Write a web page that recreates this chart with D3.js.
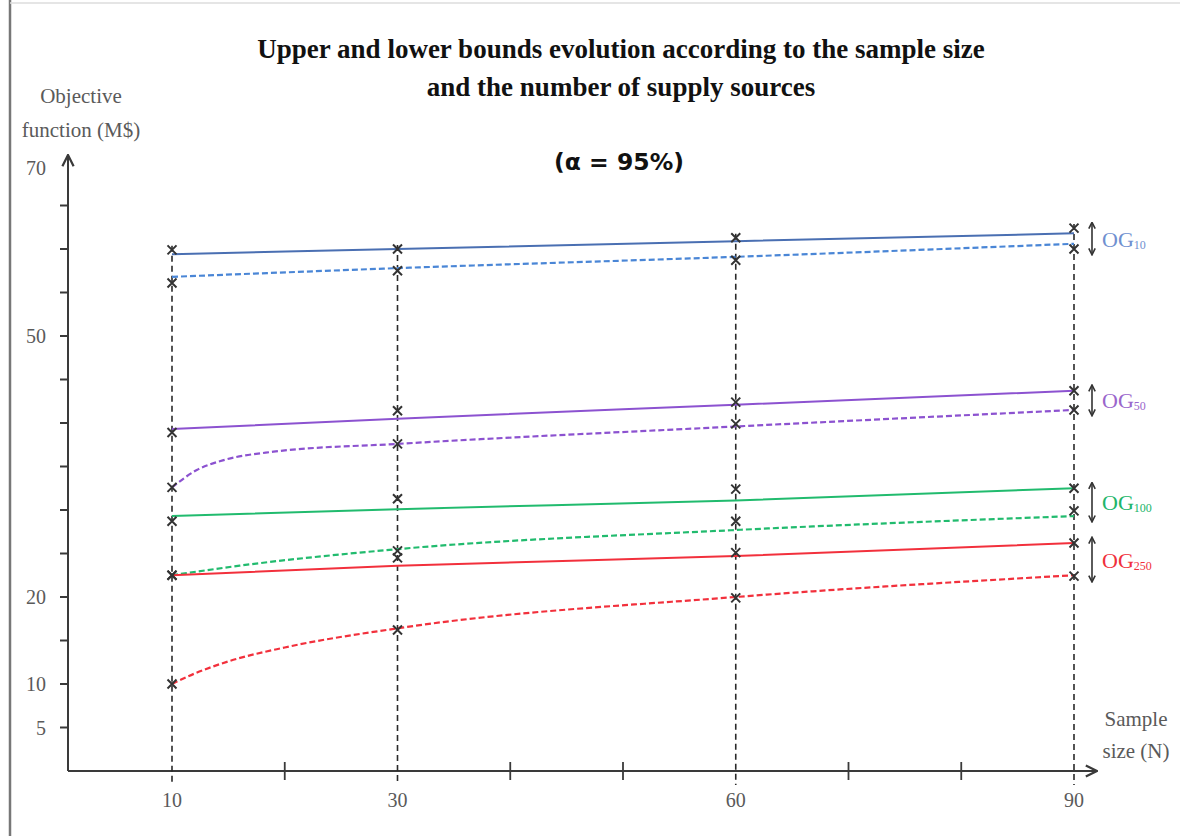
<!DOCTYPE html>
<html>
<head>
<meta charset="utf-8">
<script src="https://cdn.jsdelivr.net/npm/d3@7/dist/d3.min.js"></script>
<style>
  html, body { margin: 0; padding: 0; background: #fff; }
  svg { display: block; }
</style>
</head>
<body>
<svg id="chart" width="1180" height="836"></svg>
<script>
// ---------------- data ----------------
const sampleSizes = [10, 30, 60, 90];
const xMinorTicks = [20, 40, 50, 70, 80];
const yTicks = [5, 10, 15, 20, 25, 30, 35, 40, 45, 50, 55, 60, 65];
const yTickLabels = [5, 10, 20, 50, 70];

const groupNames = ["10", "50", "100", "250"];
const groupColors = ["#4a6fb2", "#8c52d0", "#21bb6e", "#f2303c"];
const groupDashColors = ["#4a86d6", "#8c52d0", "#21bb6e", "#f2303c"];
const groupLabelColors = ["#7090d0", "#9a66cc", "#21b56a", "#f0303c"];

// fitted upper bound (solid) at N = 10, 30, 60, 90
const upperFit = [
  [59.4, 60.0, 60.9, 61.8],
  [39.3, 40.5, 42.1, 43.7],
  [29.3, 30.1, 31.1, 32.5],
  [22.5, 23.6, 24.7, 26.2]
];
// observed upper bound markers at N = 10, 30, 60, 90
const upperObs = [
  [59.9, 60.0, 61.3, 62.4],
  [38.9, 41.4, 42.4, 43.7],
  [28.7, 31.3, 32.4, 32.5],
  [22.5, 24.5, 25.1, 26.2]
];
// fitted lower bound (dashed) curves: sample sizes and values
const lowerFitN = [
  [10, 30, 60, 90],
  [10, 12.2, 14.5, 19, 30, 60, 90],
  [10, 16, 30, 60, 90],
  [10, 12, 15, 20, 30, 60, 90]
];
const lowerFit = [
  [56.8, 57.8, 59.1, 60.6],
  [32.6, 34.6, 35.7, 36.7, 37.6, 39.6, 41.5],
  [22.5, 23.6, 25.5, 27.7, 29.3],
  [10.0, 11.2, 12.6, 14.2, 16.4, 20.0, 22.5]
];
// observed lower bound markers at N = 10, 30, 60, 90
const lowerObs = [
  [56.1, 57.5, 58.7, 60.0],
  [32.6, 37.6, 39.9, 41.5],
  [22.5, 25.3, 28.7, 29.9],
  [10.0, 16.2, 19.9, 22.4]
];

// ---------------- drawing ----------------
const svg = d3.select("#chart");
const x = d3.scaleLinear().domain([10, 90]).range([172, 1074]);
const y = d3.scaleLinear().domain([0, 70]).range([771, 162]);
const axisX0 = 68, axisY0 = 771;
const grey = "#3a3a3a";
const serif = "'Liberation Serif', 'DejaVu Serif', serif";
const labelGrey = "#5a5a5a";

// frame
svg.append("line").attr("x1", 10).attr("x2", 10).attr("y1", 0).attr("y2", 836)
  .attr("stroke", "#777").attr("stroke-width", 2.5);
svg.append("line").attr("x1", 10).attr("x2", 1180).attr("y1", 3).attr("y2", 3)
  .attr("stroke", "#ddd").attr("stroke-width", 1.5);

const defs = svg.append("defs");
defs.append("marker").attr("id", "arrow").attr("viewBox", "0 0 10 10")
  .attr("refX", 9).attr("refY", 5).attr("markerWidth", 7).attr("markerHeight", 7)
  .attr("orient", "auto-start-reverse")
  .append("path").attr("d", "M1,1 L9,5 L1,9").attr("fill", "none")
  .attr("stroke", grey).attr("stroke-width", 1.6);
defs.append("marker").attr("id", "dbl").attr("viewBox", "0 0 10 10")
  .attr("refX", 8).attr("refY", 5).attr("markerWidth", 5).attr("markerHeight", 6)
  .attr("orient", "auto-start-reverse")
  .append("path").attr("d", "M1,1 L9,5 L1,9").attr("fill", "none")
  .attr("stroke", "#333").attr("stroke-width", 2);

// title
const title = svg.append("g").attr("font-family", serif).attr("font-weight", "bold")
  .attr("font-size", 27).attr("fill", "#111").attr("text-anchor", "middle");
title.append("text").attr("x", 621).attr("y", 58)
  .text("Upper and lower bounds evolution according to the sample size");
title.append("text").attr("x", 621).attr("y", 96)
  .text("and the number of supply sources");
svg.append("text").attr("x", 619).attr("y", 170).attr("text-anchor", "middle")
  .attr("font-family", "'DejaVu Sans', sans-serif").attr("font-weight", "bold")
  .attr("font-size", 23.5).attr("fill", "#111").text("(α = 95%)");

// axes
svg.append("line").attr("x1", axisX0).attr("x2", axisX0).attr("y1", axisY0).attr("y2", 155)
  .attr("stroke", grey).attr("stroke-width", 2).attr("marker-end", "url(#arrow)");
svg.append("line").attr("x1", axisX0).attr("x2", 1097).attr("y1", axisY0).attr("y2", axisY0)
  .attr("stroke", grey).attr("stroke-width", 2).attr("marker-end", "url(#arrow)");

// y ticks
svg.append("g").selectAll("line").data(yTicks).join("line")
  .attr("x1", axisX0 - 8).attr("x2", axisX0).attr("y1", d => y(d)).attr("y2", d => y(d))
  .attr("stroke", grey).attr("stroke-width", 2);
svg.append("g").selectAll("text").data(yTickLabels).join("text")
  .attr("x", 46).attr("y", d => y(d) + (d === 70 ? 13 : 7)).attr("text-anchor", "end")
  .attr("font-family", serif).attr("font-size", 20).attr("fill", labelGrey)
  .text(d => d);

// x ticks
svg.append("g").selectAll("line").data(xMinorTicks).join("line")
  .attr("x1", d => x(d)).attr("x2", d => x(d)).attr("y1", axisY0 - 9).attr("y2", axisY0 + 9)
  .attr("stroke", grey).attr("stroke-width", 1.8);
svg.append("g").selectAll("text").data(sampleSizes).join("text")
  .attr("x", d => x(d)).attr("y", 807).attr("text-anchor", "middle")
  .attr("font-family", serif).attr("font-size", 20).attr("fill", labelGrey)
  .text(d => d);

// axis titles
const yl = svg.append("g").attr("font-family", serif).attr("font-size", 21).attr("fill", labelGrey);
yl.append("text").attr("x", 81).attr("y", 103).attr("text-anchor", "middle").text("Objective");
yl.append("text").attr("x", 81).attr("y", 137).attr("text-anchor", "middle").text("function (M$)");
const xl = svg.append("g").attr("font-family", serif).attr("font-size", 21).attr("fill", labelGrey);
xl.append("text").attr("x", 1136).attr("y", 726).attr("text-anchor", "middle").text("Sample");
xl.append("text").attr("x", 1136).attr("y", 758).attr("text-anchor", "middle").text("size (N)");

// vertical dashed guide lines
const topObs = sampleSizes.map((n, i) => d3.max(upperObs, g => g[i]));
svg.append("g").selectAll("line").data(sampleSizes).join("line")
  .attr("x1", d => x(d)).attr("x2", d => x(d))
  .attr("y1", (d, i) => y(topObs[i]) - 4).attr("y2", axisY0 + 14)
  .attr("stroke", "#2a2a2a").attr("stroke-width", 1.6).attr("stroke-dasharray", "6,4");

// lines
const line = d3.line().curve(d3.curveMonotoneX).x(d => x(d[0])).y(d => y(d[1]));
groupNames.forEach((g, gi) => {
  const up = sampleSizes.map((n, i) => [n, upperFit[gi][i]]);
  svg.append("path").attr("d", line(up)).attr("fill", "none")
    .attr("stroke", groupColors[gi]).attr("stroke-width", 2);
  const lo = lowerFitN[gi].map((n, i) => [n, lowerFit[gi][i]]);
  svg.append("path").attr("d", line(lo)).attr("fill", "none")
    .attr("stroke", groupDashColors[gi]).attr("stroke-width", 2.2)
    .attr("stroke-dasharray", "6,3");
});

// markers
const cross = (sel, cx, cy) => {
  const s = 4.5;
  sel.append("path")
    .attr("d", `M${cx - s},${cy - s}L${cx + s},${cy + s}M${cx - s},${cy + s}L${cx + s},${cy - s}`)
    .attr("stroke", "#333").attr("stroke-width", 2).attr("fill", "none");
};
const mk = svg.append("g");
groupNames.forEach((g, gi) => {
  sampleSizes.forEach((n, i) => {
    cross(mk, x(n), y(upperObs[gi][i]));
    cross(mk, x(n), y(lowerObs[gi][i]));
  });
});

// double arrows and group labels
groupNames.forEach((g, gi) => {
  const lastLo = lowerFit[gi][lowerFit[gi].length - 1];
  const yTop = y(Math.max(upperObs[gi][3], upperFit[gi][3]));
  const yBot = y(Math.min(lowerObs[gi][3], lastLo));
  svg.append("line").attr("x1", 1092).attr("x2", 1092).attr("y1", yTop - 5).attr("y2", yBot + 5)
    .attr("stroke", "#333").attr("stroke-width", 1.6)
    .attr("marker-start", "url(#dbl)").attr("marker-end", "url(#dbl)");
  const t = svg.append("text").attr("x", 1102).attr("y", (yTop + yBot) / 2 + 8)
    .attr("font-family", serif).attr("font-size", 22).attr("fill", groupLabelColors[gi]);
  t.append("tspan").text("OG");
  t.append("tspan").attr("font-size", 12).attr("dy", 2).text(g);
});
</script>
</body>
</html>
